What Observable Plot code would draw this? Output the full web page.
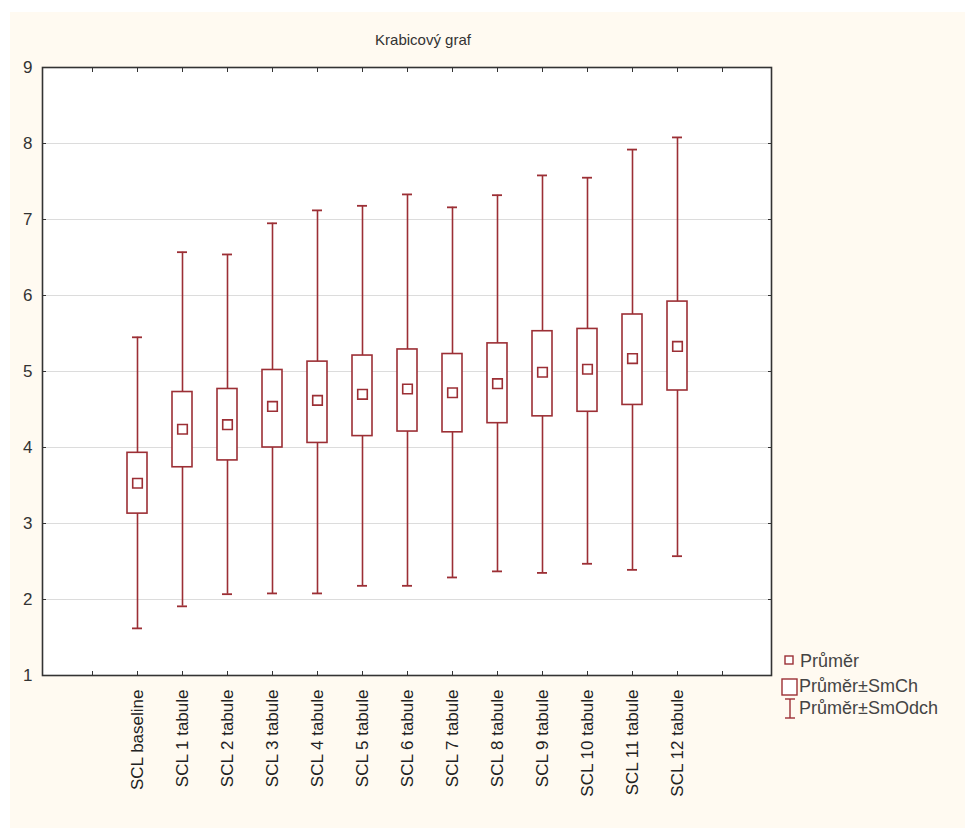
<!DOCTYPE html>
<html>
<head>
<meta charset="utf-8">
<script src="https://cdn.jsdelivr.net/npm/d3@7"></script>
<script src="https://cdn.jsdelivr.net/npm/@observablehq/plot@0.6"></script>
<style>
  html, body { margin: 0; padding: 0; background: #ffffff; }
  #wrap { position: relative; width: 965px; height: 828px; }
  #bg { position: absolute; left: 10px; top: 12px; right: 0; bottom: 0; background: #fffaf1; }
  #chart { position: absolute; left: 0; top: 0; }
  svg { background: transparent !important; }
</style>
</head>
<body>
<div id="wrap"><div id="bg"></div><div id="chart"></div></div>
<script>
const categories = ["SCL baseline", "SCL 1 tabule", "SCL 2 tabule", "SCL 3 tabule", "SCL 4 tabule",
  "SCL 5 tabule", "SCL 6 tabule", "SCL 7 tabule", "SCL 8 tabule", "SCL 9 tabule",
  "SCL 10 tabule", "SCL 11 tabule", "SCL 12 tabule"];
const means  = [3.53, 4.24, 4.30, 4.54, 4.62, 4.70, 4.77, 4.72, 4.84, 4.99, 5.03, 5.17, 5.33];
const seHigh = [3.93, 4.73, 4.77, 5.02, 5.13, 5.21, 5.29, 5.23, 5.37, 5.53, 5.56, 5.75, 5.92];
const seLow  = [3.13, 3.74, 3.83, 4.00, 4.06, 4.15, 4.21, 4.20, 4.32, 4.41, 4.47, 4.56, 4.75];
const sdHigh = [5.45, 6.57, 6.54, 6.95, 7.12, 7.18, 7.33, 7.16, 7.32, 7.58, 7.55, 7.92, 8.08];
const sdLow  = [1.62, 1.91, 2.07, 2.08, 2.08, 2.18, 2.18, 2.29, 2.37, 2.35, 2.47, 2.39, 2.57];
const yTicks = [1, 2, 3, 4, 5, 6, 7, 8, 9];
const titleText = "Krabicový graf";
const legendLabels = ["Průměr", "Průměr±SmCh", "Průměr±SmOdch"];

const RED = "#9c2f35";
const FONT = "'Liberation Sans', Arial, sans-serif";

const data = categories.map((c, i) => ({
  cat: c, mean: means[i], seLow: seLow[i], seHigh: seHigh[i], sdLow: sdLow[i], sdHigh: sdHigh[i]
}));
// empty slots on both sides, as in the original
const xDomain = ["", ...categories, " "];

const plot = Plot.plot({
  width: 965,
  height: 828,
  marginLeft: 42,
  marginRight: 194,
  marginTop: 67,
  marginBottom: 153,
  style: { fontFamily: FONT, background: "transparent", color: "#222" },
  x: { type: "band", domain: xDomain, paddingInner: 0.56, paddingOuter: 0.78, label: null },
  y: { domain: [1, 9], label: null },
  marks: [
    Plot.frame({ fill: "white", stroke: "none" }),
    Plot.gridY(yTicks.slice(1, -1), { stroke: "#dcdcdc", strokeOpacity: 1, strokeWidth: 1 }),
    // whiskers (mean ± SD)
    Plot.ruleX(data, { x: "cat", y1: "sdLow", y2: "sdHigh", stroke: RED, strokeWidth: 1.6 }),
    Plot.tickY(data, { x: "cat", y: "sdLow", stroke: RED, strokeWidth: 1.8, inset: 5 }),
    Plot.tickY(data, { x: "cat", y: "sdHigh", stroke: RED, strokeWidth: 1.8, inset: 5 }),
    // boxes (mean ± SE)
    Plot.barY(data, { x: "cat", y1: "seLow", y2: "seHigh", fill: "white", stroke: RED, strokeWidth: 1.6 }),
    // mean markers
    Plot.dot(data, { x: "cat", y: "mean", symbol: "square", r: 5.4, fill: "white", stroke: RED, strokeWidth: 1.6 }),
    // axes: labels
    Plot.axisY({ anchor: "left", ticks: yTicks, tickSize: 0, tickPadding: 10, fontSize: 17, fill: "#333" }),
    Plot.axisY({ anchor: "left", ticks: yTicks, tickSize: -4, tickFormat: () => "", stroke: "#333" }),
    Plot.axisY({ anchor: "right", ticks: yTicks, tickSize: -4, tickFormat: () => "", stroke: "#333" }),
    Plot.axisX({ anchor: "bottom", tickSize: 0, tickRotate: -90, tickPadding: 14, fontSize: 17, fill: "#222" }),
    Plot.axisX({ anchor: "bottom", tickSize: -4, tickFormat: () => "", stroke: "#333" }),
    Plot.axisX({ anchor: "top", tickSize: -4, tickFormat: () => "", stroke: "#333" }),
    Plot.frame({ stroke: "#333", strokeWidth: 1.6 })
  ]
});
document.getElementById("chart").appendChild(plot);

// title and legend drawn into the same SVG
const svg = d3.select(plot);
svg.append("text")
  .attr("x", 423).attr("y", 45)
  .attr("text-anchor", "middle")
  .style("font-family", FONT).style("font-size", "15px").attr("fill", "#333")
  .text(titleText);

const lg = svg.append("g")
  .attr("text-anchor", "start")
  .style("font-family", FONT).style("font-size", "18px");
// row 1: mean square
lg.append("rect").attr("x", 785).attr("y", 656).attr("width", 8).attr("height", 8)
  .attr("fill", "white").attr("stroke", RED).attr("stroke-width", 1.4);
lg.append("text").attr("x", 800).attr("y", 667).attr("fill", "#444").text(legendLabels[0]);
// row 2: box
lg.append("rect").attr("x", 782).attr("y", 679).attr("width", 15).attr("height", 16)
  .attr("fill", "white").attr("stroke", RED).attr("stroke-width", 1.4);
lg.append("text").attr("x", 799).attr("y", 692).attr("fill", "#444").text(legendLabels[1]);
// row 3: whisker
lg.append("line").attr("x1", 790).attr("x2", 790).attr("y1", 699).attr("y2", 718).attr("stroke", RED).attr("stroke-width", 1.4);
lg.append("line").attr("x1", 785).attr("x2", 795).attr("y1", 699).attr("y2", 699).attr("stroke", RED).attr("stroke-width", 1.4);
lg.append("line").attr("x1", 785).attr("x2", 795).attr("y1", 718).attr("y2", 718).attr("stroke", RED).attr("stroke-width", 1.4);
lg.append("text").attr("x", 799).attr("y", 714).attr("fill", "#444").text(legendLabels[2]);
</script>
</body>
</html>
